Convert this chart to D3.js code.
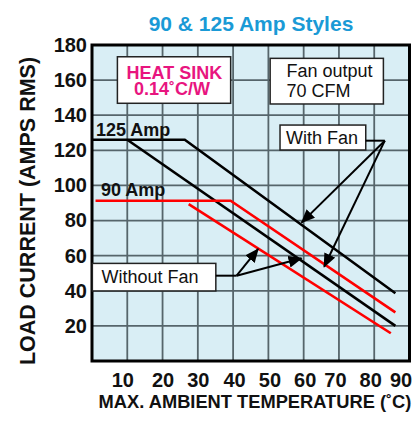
<!DOCTYPE html>
<html>
<head>
<meta charset="utf-8">
<script src="https://d3js.org/d3.v7.min.js"></script>
<style>
  body { margin: 0; background: #fff; }
  svg { display: block; font-family: Arial, "Liberation Sans", Helvetica, sans-serif; }
</style>
</head>
<body>
<div id="chart"></div>
<script>
// tick labels
const xTicks = [10, 20, 30, 40, 50, 60, 70, 80, 90];
const yTicks = [20, 40, 60, 80, 100, 120, 140, 160, 180];
const xGrid = [10, 20, 30, 40, 50, 60, 70, 80];
const yGrid = [20, 40, 60, 80, 100, 120, 140, 160];

// derating curves [temp °C, amps]
const amp125WithFan = [[0, 126], [26.3, 126], [86, 38.6]];
const amp125NoFan   = [[10, 126], [86, 20]];
const amp90WithFan  = [[1, 91.3], [39.3, 91.3], [86, 27.7]];
const amp90NoFan    = [[27.4, 89.4], [84.7, 15.8]];

// arrows: from, to
const withFanFrom = [83, 125.5];
const withFanTips = [[59.4, 78.8], [65.8, 53.7]];
const noFanFrom = [41, 48.6];
const noFanTips = [[47.1, 63.8], [59.4, 58.5]];

const W = 417, H = 423;
const x = d3.scaleLinear().domain([0, 90]).range([92, 409.5]);
const y = d3.scaleLinear().domain([0, 180]).range([361, 45]);

const svg = d3.select('#chart').append('svg')
    .attr('width', W).attr('height', H);

svg.append('defs').append('marker')
    .attr('id', 'arr')
    .attr('markerUnits', 'userSpaceOnUse')
    .attr('markerWidth', 14).attr('markerHeight', 12)
    .attr('refX', 13).attr('refY', 6)
    .attr('orient', 'auto')
    .append('path')
    .attr('d', 'M0,0 L14,6 L0,12 Z')
    .attr('fill', '#000');

// background
svg.append('rect')
    .attr('x', x(0)).attr('y', y(180))
    .attr('width', x(90) - x(0)).attr('height', y(0) - y(180))
    .attr('fill', '#d9eef5');

// grid
svg.selectAll('.vgrid').data(xGrid).join('line')
    .attr('x1', d => x(d)).attr('x2', d => x(d))
    .attr('y1', y(180)).attr('y2', y(0))
    .attr('stroke', '#56656b').attr('stroke-width', 1.8);
svg.selectAll('.hgrid').data(yGrid).join('line')
    .attr('y1', d => y(d)).attr('y2', d => y(d))
    .attr('x1', x(0)).attr('x2', x(90))
    .attr('stroke', '#56656b').attr('stroke-width', 1.8);

// axes (labels only). the original nudges a few x labels sideways
const nudge = {10: -5, 40: 1, 50: 1, 60: 1, 70: -4, 80: -4, 90: -9};
const xAxis = svg.append('g')
    .attr('transform', `translate(0,${y(0)})`)
    .call(d3.axisBottom(x).tickValues(xTicks).tickSize(0).tickPadding(12));
xAxis.select('.domain').remove();
xAxis.selectAll('text')
    .attr('font-size', 20).attr('font-weight', 'bold').attr('fill', '#111')
    .attr('font-family', 'Arial, "Liberation Sans", sans-serif')
    .attr('dx', d => nudge[d] || 0);

const yAxis = svg.append('g')
    .attr('transform', `translate(${x(0)},0)`)
    .call(d3.axisLeft(y).tickValues(yTicks).tickSize(0).tickPadding(5));
yAxis.select('.domain').remove();
yAxis.selectAll('text')
    .attr('font-size', 20).attr('font-weight', 'bold').attr('fill', '#111')
    .attr('font-family', 'Arial, "Liberation Sans", sans-serif');

// frame
svg.append('rect')
    .attr('x', x(0)).attr('y', y(180))
    .attr('width', x(90) - x(0)).attr('height', y(0) - y(180))
    .attr('fill', 'none').attr('stroke', '#000').attr('stroke-width', 3);

// curves
const line = d3.line().x(d => x(d[0])).y(d => y(d[1]));
const curves = [
    {pts: amp125WithFan, color: '#000'},
    {pts: amp125NoFan, color: '#000'},
    {pts: amp90WithFan, color: '#ff0000'},
    {pts: amp90NoFan, color: '#ff0000'}
];
svg.selectAll('.curve').data(curves).join('path')
    .attr('d', d => line(d.pts))
    .attr('fill', 'none')
    .attr('stroke', d => d.color)
    .attr('stroke-width', 2.6);

// curve labels
svg.append('text').attr('x', 96).attr('y', 136)
    .attr('font-size', 18).attr('font-weight', 'bold').attr('fill', '#111')
    .text('125 Amp');
svg.append('text').attr('x', 101).attr('y', 196)
    .attr('font-size', 18).attr('font-weight', 'bold').attr('fill', '#111')
    .text('90 Amp');

// boxes
function box(x0, y0, x1, y1) {
    svg.append('rect')
        .attr('x', x(x0)).attr('y', y(y0))
        .attr('width', x(x1) - x(x0)).attr('height', y(y1) - y(y0))
        .attr('fill', '#fff').attr('stroke', '#222').attr('stroke-width', 1.5);
}

box(7.2, 173.3, 39.3, 146.8);
svg.append('text').attr('x', 126.5).attr('y', 78.5)
    .attr('font-size', 18).attr('font-weight', 'bold').attr('fill', '#e8157f')
    .text('HEAT SINK');
svg.append('text').attr('x', 134).attr('y', 95)
    .attr('font-size', 18).attr('font-weight', 'bold').attr('fill', '#e8157f')
    .text('0.14˚C/W');

box(50.5, 172.4, 82.6, 146.4);
svg.append('text').attr('x', 286.5).attr('y', 77)
    .attr('font-size', 18).attr('fill', '#111')
    .text('Fan output');
svg.append('text').attr('x', 286.5).attr('y', 97)
    .attr('font-size', 18).attr('fill', '#111')
    .text('70 CFM');

// With Fan callout
box(53.3, 134.4, 77.6, 120.2);
svg.append('text').attr('x', 286).attr('y', 144)
    .attr('font-size', 18).attr('fill', '#111')
    .text('With Fan');
svg.append('line')
    .attr('x1', x(77.6)).attr('x2', x(withFanFrom[0]))
    .attr('y1', y(withFanFrom[1])).attr('y2', y(withFanFrom[1]))
    .attr('stroke', '#000').attr('stroke-width', 2);
svg.selectAll('.wf').data(withFanTips).join('line')
    .attr('x1', x(withFanFrom[0])).attr('y1', y(withFanFrom[1]))
    .attr('x2', d => x(d[0])).attr('y2', d => y(d[1]))
    .attr('stroke', '#000').attr('stroke-width', 2)
    .attr('marker-end', 'url(#arr)');

// Without Fan callout
box(0.1, 55.6, 35.1, 39.9);
svg.append('text').attr('x', 101.5).attr('y', 283)
    .attr('font-size', 18).attr('fill', '#111')
    .text('Without Fan');
svg.append('line')
    .attr('x1', x(35.1)).attr('x2', x(noFanFrom[0]))
    .attr('y1', y(noFanFrom[1])).attr('y2', y(noFanFrom[1]))
    .attr('stroke', '#000').attr('stroke-width', 2);
svg.selectAll('.nf').data(noFanTips).join('line')
    .attr('x1', x(noFanFrom[0])).attr('y1', y(noFanFrom[1]))
    .attr('x2', d => x(d[0])).attr('y2', d => y(d[1]))
    .attr('stroke', '#000').attr('stroke-width', 2)
    .attr('marker-end', 'url(#arr)');

// title and axis titles
svg.append('text').attr('x', 251).attr('y', 31)
    .attr('text-anchor', 'middle')
    .attr('font-size', 21).attr('font-weight', 'bold').attr('fill', '#1a9ad6')
    .text('90 & 125 Amp Styles');

svg.append('text').attr('x', 255).attr('y', 408)
    .attr('text-anchor', 'middle')
    .attr('font-size', 18.3).attr('font-weight', 'bold').attr('fill', '#111')
    .text('MAX. AMBIENT TEMPERATURE (˚C)');

svg.append('text')
    .attr('transform', 'translate(35,211) rotate(-90)')
    .attr('text-anchor', 'middle')
    .attr('font-size', 21.5).attr('font-weight', 'bold').attr('fill', '#111')
    .text('LOAD CURRENT (AMPS RMS)');
</script>
</body>
</html>
